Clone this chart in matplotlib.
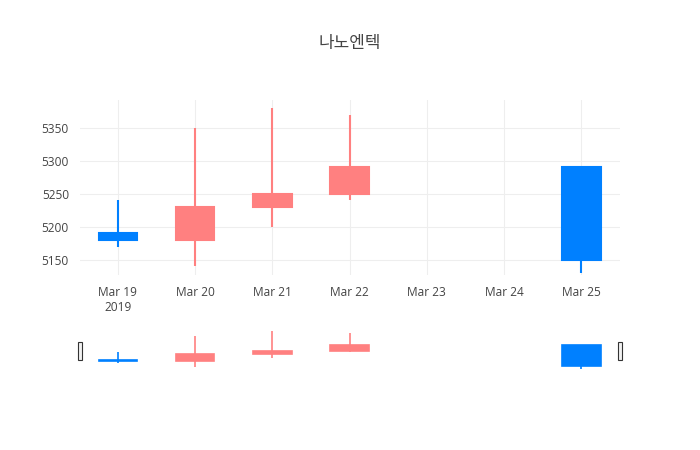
import matplotlib
matplotlib.use("Agg")
import matplotlib.pyplot as plt
from matplotlib.patches import Rectangle, FancyBboxPatch

plt.rcParams['font.family'] = ['Open Sans', 'Noto Sans CJK KR', 'DejaVu Sans']

dates = ["Mar 19\n2019", "Mar 20", "Mar 21", "Mar 22", "Mar 23", "Mar 24", "Mar 25"]
day_idx = [0, 1, 2, 3, 6]
opens = [5190, 5180, 5230, 5250, 5290]
closes = [5180, 5230, 5250, 5290, 5150]
highs = [5240, 5350, 5380, 5370, 5290]
lows = [5170, 5140, 5200, 5240, 5130]
title = "나노엔텍"

UP = "#FF8080"
DOWN = "#0080FF"
TXT = "#444444"

fig = plt.figure(figsize=(7, 4.5), dpi=100)
ax = fig.add_axes([80/700, 1-275/450, 540/700, 175/450])
sl = fig.add_axes([80/700, 1-370/450, 540/700, 40/450])

def draw(a, lw):
    for x, o, c, h, l in zip(day_idx, opens, closes, highs, lows):
        col = UP if c >= o else DOWN
        a.plot([x, x], [l, h], color=col, lw=lw, solid_capstyle='butt', zorder=2)
        a.add_patch(Rectangle((x-0.25, min(o, c)), 0.5, max(abs(c-o), 1), facecolor=col, edgecolor=col, lw=lw, zorder=3))

draw(ax, 1.5)
draw(sl, 1.2)

for a in (ax, sl):
    a.set_xlim(-0.49, 6.5)
    for s in a.spines.values():
        s.set_visible(False)

ax.set_ylim(5127, 5392)
ax.set_yticks([5150, 5200, 5250, 5300, 5350])
ax.set_xticks(range(7))
ax.set_xticklabels(dates)
ax.grid(True, color="#eeeeee", lw=0.8, zorder=0)
ax.set_axisbelow(True)
ax.tick_params(length=0, labelsize=8.6, colors=TXT, pad=8)

sl.set_ylim(5122, 5388)
sl.set_xticks([]); sl.set_yticks([])

# range slider handles
for xp in (80, 620):
    fig.patches.append(Rectangle(((xp-2)/700, 1-360/450), 4/700, 18/450, transform=fig.transFigure,
                                 facecolor="#f2f2f2", edgecolor="#333333", lw=0.8))

fig.text(0.5, 1-43/450, title, ha='center', va='center', fontsize=12.2, color=TXT,
         family=['Noto Sans CJK KR', 'DejaVu Sans'])

fig.savefig("out.png", dpi=100)
